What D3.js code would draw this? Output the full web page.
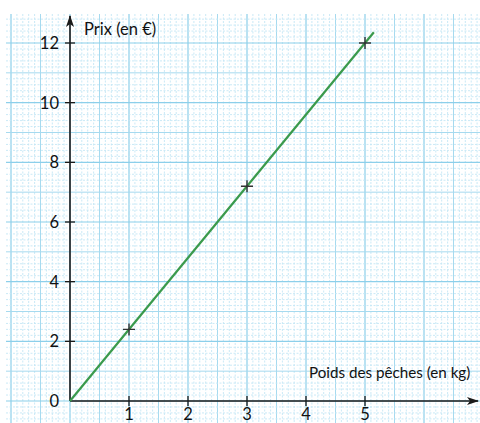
<!DOCTYPE html>
<html>
<head>
<meta charset="utf-8">
<script src="https://cdn.jsdelivr.net/npm/d3@7"></script>
<style>
  html, body { margin: 0; padding: 0; background: #fff; }
  svg { display: block; }
  text { font-family: Lato, "Open Sans", "Noto Sans", sans-serif; fill: #111; }
</style>
</head>
<body>
<svg id="chart" width="480" height="423"></svg>
<script>
// Price of peaches as a function of their weight
const weights = [1, 3, 5];          // kg
const prices = [2.4, 7.2, 12];      // €
const lineEnd = [5.15, 12.36];      // the straight line goes slightly past the last point
const xTicks = [1, 2, 3, 4, 5];
const yTicks = [0, 2, 4, 6, 8, 10, 12];
const xTitle = "Poids des pêches (en kg)";
const yTitle = "Prix (en €)";

const W = 480, H = 423;
const svg = d3.select("#chart");

const x = d3.scaleLinear().domain([0, 5]).range([70, 365]);
const y = d3.scaleLinear().domain([0, 12]).range([401, 43]);

// graph paper: 1 mm lines, half-cm lines, cm lines
const paper = { x0: 6, x1: W, y0: 14, y1: H };
const gx = [], gy = [];
for (let i = Math.ceil(x.invert(paper.x0) * 10); i <= Math.floor(x.invert(paper.x1) * 10); i++) gx.push(i);
for (let j = Math.ceil(y.invert(paper.y1) * 5); j <= Math.floor(y.invert(paper.y0) * 5); j++) gy.push(j);

const grid = svg.append("g");
const gridStyle = k => k % 10 === 0 ? ["#8ccfea", 1.2, null] : k % 5 === 0 ? ["#a6daef", 1, null] : ["#c4e7f5", 0.9, "2,1.5"];
const byWeight = (a, b) => (a % 5 === 0) - (b % 5 === 0);

grid.selectAll("line.gx").data(gx.slice().sort(byWeight)).join("line")
  .attr("x1", i => x(i / 10)).attr("x2", i => x(i / 10))
  .attr("y1", paper.y0).attr("y2", paper.y1)
  .attr("stroke", i => gridStyle(i)[0]).attr("stroke-width", i => gridStyle(i)[1])
  .attr("stroke-dasharray", i => gridStyle(i)[2]);
grid.selectAll("line.gy").data(gy.slice().sort(byWeight)).join("line")
  .attr("y1", j => y(j / 5)).attr("y2", j => y(j / 5))
  .attr("x1", paper.x0).attr("x2", paper.x1)
  .attr("stroke", j => gridStyle(j)[0]).attr("stroke-width", j => gridStyle(j)[1])
  .attr("stroke-dasharray", j => gridStyle(j)[2]);

// arrow heads
const defs = svg.append("defs");
defs.append("marker").attr("id", "arrow").attr("viewBox", "0 0 12 8")
  .attr("refX", 11).attr("refY", 4).attr("markerWidth", 12).attr("markerHeight", 8)
  .attr("markerUnits", "userSpaceOnUse").attr("orient", "auto")
  .append("path").attr("d", "M0,0 L12,4 L0,8 L3,4 Z").attr("fill", "#1a1a1a");

// axes
svg.append("line").attr("x1", x(0)).attr("x2", 478).attr("y1", y(0)).attr("y2", y(0))
  .attr("stroke", "#1a1a1a").attr("stroke-width", 1.6).attr("marker-end", "url(#arrow)");
svg.append("line").attr("x1", x(0)).attr("x2", x(0)).attr("y1", y(0)).attr("y2", 16)
  .attr("stroke", "#1a1a1a").attr("stroke-width", 1.6).attr("marker-end", "url(#arrow)");

// tick marks crossing the axes
svg.selectAll("line.xt").data(xTicks).join("line")
  .attr("x1", d => x(d)).attr("x2", d => x(d)).attr("y1", y(0) - 5).attr("y2", y(0) + 5)
  .attr("stroke", "#1a1a1a").attr("stroke-width", 1.3);
svg.selectAll("line.yt").data(yTicks.filter(d => d > 0)).join("line")
  .attr("y1", d => y(d)).attr("y2", d => y(d)).attr("x1", x(0) - 5).attr("x2", x(0) + 5)
  .attr("stroke", "#1a1a1a").attr("stroke-width", 1.3);

// tick labels
svg.selectAll("text.xl").data(xTicks).join("text")
  .attr("x", d => x(d)).attr("y", 420).attr("text-anchor", "middle")
  .attr("font-size", 16.5).text(d => d);
svg.selectAll("text.yl").data(yTicks).join("text")
  .attr("x", 59).attr("y", d => y(d)).attr("dy", "0.36em").attr("text-anchor", "end")
  .attr("font-size", 16.5).text(d => d);

// axis titles
svg.append("text").attr("x", 84).attr("y", 35).attr("font-size", 16.5).text(yTitle);
svg.append("text").attr("x", 309).attr("y", 378).attr("font-size", 15.2).text(xTitle);

// proportional line through the origin
svg.append("line")
  .attr("x1", x(0)).attr("y1", y(0)).attr("x2", x(lineEnd[0])).attr("y2", y(lineEnd[1]))
  .attr("stroke", "#3a9a4c").attr("stroke-width", 2.2);

// measured points as crosses
const pts = weights.map((w, i) => [w, prices[i]]);
svg.selectAll("path.pt").data(pts).join("path")
  .attr("d", d => `M${x(d[0]) - 6},${y(d[1])}H${x(d[0]) + 6}M${x(d[0])},${y(d[1]) - 6}V${y(d[1]) + 6}`)
  .attr("stroke", "#333").attr("stroke-width", 1.4).attr("fill", "none");
</script>
</body>
</html>
